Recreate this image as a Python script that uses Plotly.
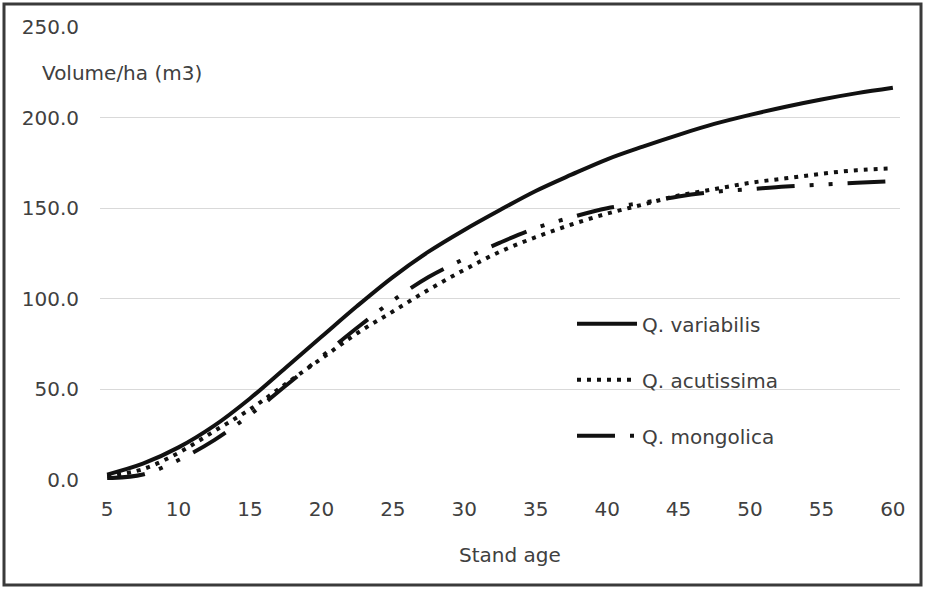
import plotly.graph_objects as go

ages = [5, 7.5, 10, 12.5, 15, 17.5, 20, 22.5, 25, 27.5, 30, 32.5, 35, 37.5, 40, 42.5, 45, 47.5, 50, 52.5, 55, 57.5, 60]
variabilis = [3, 9, 18, 30, 45, 62, 79, 96, 112, 126, 138, 149, 159.5, 168.5, 177, 184, 190.5, 196.5, 201.5, 206, 210, 213.5, 216.5]
acutissima = [2, 6, 15, 27, 39, 53, 67, 81, 93, 105, 116, 126, 134, 141, 147, 152, 157, 160.5, 164, 166.5, 169, 171, 172]
mongolica = [1, 3, 11, 22, 36, 52, 68, 84, 99, 112, 122, 131, 139, 145, 150, 153, 156.5, 159, 160.5, 162, 163, 164, 165]

x_ticks = [5, 10, 15, 20, 25, 30, 35, 40, 45, 50, 55, 60]
y_ticks = [0, 50, 100, 150, 200, 250]
y_tick_text = ["0.0", "50.0", "100.0", "150.0", "200.0", "250.0"]

FONT = "DejaVu Sans"
TXT = "#404040"

fig = go.Figure()
fig.add_trace(go.Scatter(x=ages, y=variabilis, name="Q. variabilis", mode="lines",
                         line=dict(color="#111111", width=4, shape="spline"), legendgroup="a"))
fig.add_trace(go.Scatter(x=ages, y=acutissima, name="Q. acutissima", mode="lines",
                         line=dict(color="#111111", width=4, shape="spline", dash="4px,6px"), legendgroup="b"))
fig.add_trace(go.Scatter(x=ages, y=mongolica, name="Q. mongolica", mode="lines",
                         line=dict(color="#111111", width=4, shape="spline",
                                   dash="38px,15px,4px,15px,4px,15px"), legendgroup="c"))

fig.update_layout(
    width=927, height=590,
    margin=dict(l=100, r=27, t=27, b=110),
    paper_bgcolor="white", plot_bgcolor="white",
    font=dict(family=FONT, size=20, color=TXT),
    showlegend=True,
    legend=dict(x=0.59, y=0.388, xanchor="left", yanchor="top",
                bgcolor="rgba(0,0,0,0)", font=dict(size=20, color=TXT, family=FONT),
                tracegroupgap=27, itemwidth=60),
    xaxis=dict(range=[4.5, 60.5], tickvals=x_ticks, showgrid=False, zeroline=False,
               showline=False, ticks="", ticklabelstandoff=15, automargin=False,
               tickfont=dict(size=20, color=TXT, family=FONT)),
    yaxis=dict(range=[0, 250], tickvals=y_ticks, ticktext=y_tick_text, showgrid=True,
               gridcolor="#d9d9d9", gridwidth=1, zeroline=False, showline=False,
               ticks="", ticklabelstandoff=20, automargin=False,
               tickfont=dict(size=20, color=TXT, family=FONT)),
)

fig.add_annotation(text="Volume/ha (m3)", xref="paper", yref="paper", x=-0.075, y=0.8985,
                   xanchor="left", yanchor="middle", showarrow=False,
                   font=dict(size=20, color=TXT, family=FONT))
fig.add_annotation(text="Stand age", xref="paper", yref="paper", x=0.5125, y=-0.1656,
                   xanchor="center", yanchor="middle", showarrow=False,
                   font=dict(size=20, color=TXT, family=FONT))

fig.add_shape(type="rect", xref="paper", yref="paper",
              x0=(4 - 100) / 800, x1=(921 - 100) / 800,
              y0=(480 - 585) / 453, y1=(480 - 4) / 453,
              line=dict(color="#3a3a3a", width=3), fillcolor="rgba(0,0,0,0)", layer="above")

fig.write_html("out.html", config={"displayModeBar": False},
               post_script="document.body.style.margin='0';document.documentElement.style.overflow='hidden';")
